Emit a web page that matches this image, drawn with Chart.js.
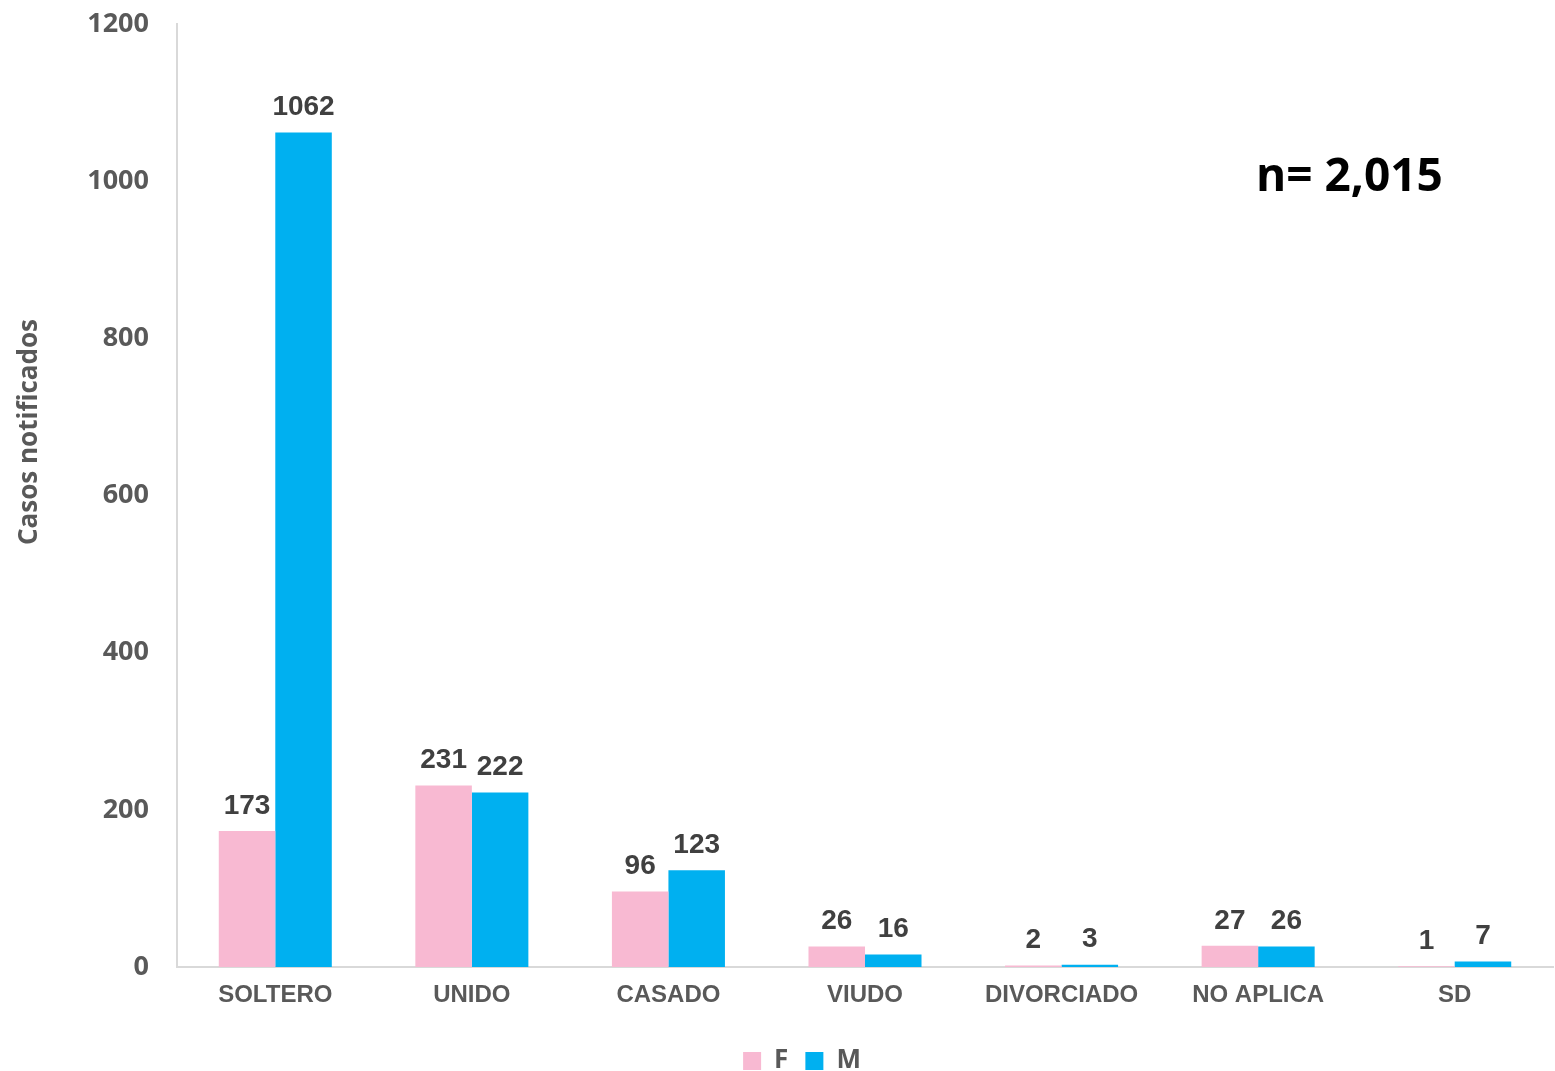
<!DOCTYPE html>
<html>
<head>
<meta charset="utf-8">
<script src="https://cdn.jsdelivr.net/npm/chart.js@4"></script>
<style>
  html, body { margin: 0; padding: 0; background: #fff; }
  #wrap { width: 1555px; height: 1071px; }
</style>
</head>
<body>
<div id="wrap"><canvas id="estadoCivilChart"></canvas></div>
<script>
const categories = ['SOLTERO', 'UNIDO', 'CASADO', 'VIUDO', 'DIVORCIADO', 'NO APLICA', 'SD'];
const femenino = [173, 231, 96, 26, 2, 27, 1];
const masculino = [1062, 222, 123, 16, 3, 26, 7];
const yTicks = [0, 200, 400, 600, 800, 1000, 1200];
const totalText = 'n= 2,015';
const yTitle = 'Casos notificados';

// etiquetas encima de cada barra
const valueLabels = {
  id: 'valueLabels',
  afterDatasetsDraw(chart) {
    const ctx = chart.ctx;
    ctx.save();
    ctx.font = 'bold 28px "Liberation Sans", Arial, sans-serif';
    ctx.fillStyle = '#404040';
    ctx.textAlign = 'center';
    ctx.textBaseline = 'bottom';
    chart.data.datasets.forEach((ds, i) => {
      chart.getDatasetMeta(i).data.forEach((bar, j) => {
        ctx.fillText(ds.data[j], bar.x, bar.y - 11);
      });
    });
    ctx.restore();
  }
};

// texto "n= 2,015" y titulo del eje y
const extraText = {
  id: 'extraText',
  afterDraw(chart) {
    const ctx = chart.ctx;
    ctx.save();
    ctx.font = 'bold 46px "Open Sans", sans-serif';
    ctx.fillStyle = '#000';
    ctx.textAlign = 'left';
    ctx.textBaseline = 'middle';
    ctx.fillText(totalText, 1256, 178);

    ctx.translate(30, 432);
    ctx.rotate(-Math.PI / 2);
    ctx.font = 'bold 26px "Open Sans", sans-serif';
    ctx.fillStyle = '#595959';
    ctx.textAlign = 'center';
    ctx.fillText(yTitle, 0, 0);
    ctx.restore();
  }
};

const ctx = document.getElementById('estadoCivilChart').getContext('2d');
const estadoCivilChart = new Chart(ctx, {
  type: 'bar',
  data: {
    labels: categories,
    datasets: [
      { label: 'F', data: femenino, backgroundColor: '#F8B9D2', categoryPercentage: 0.575, barPercentage: 1.0 },
      { label: 'M', data: masculino, backgroundColor: '#00B0F0', categoryPercentage: 0.575, barPercentage: 1.0 },
    ],
  },
  options: {
    responsive: true,
    maintainAspectRatio: false,
    animation: false,
    layout: { padding: { top: 24, right: 2, left: 51, bottom: -13 } },
    plugins: {
      legend: {
        position: 'bottom',
        title: { display: true, text: ' ', font: { size: 6 }, padding: 0 },
        labels: {
          boxWidth: 18, boxHeight: 18, padding: 17,
          color: '#595959',
          font: { family: '"Open Sans", sans-serif', size: 26, weight: 'bold' },
        },
      },
      tooltip: { enabled: false },
    },
    scales: {
      x: {
        grid: { display: false, drawTicks: false },
        border: { color: '#D9D9D9', width: 2 },
        ticks: {
          padding: 14,
          color: '#595959',
          font: { family: '"Liberation Sans", Arial, sans-serif', size: 24, weight: 'bold' },
        },
      },
      y: {
        min: 0, max: 1200,
        afterBuildTicks(axis) { axis.ticks = yTicks.map(v => ({ value: v })); },
        afterFit(axis) {
          axis.width = 126;
          axis.paddingTop = 0;
          axis.paddingBottom = 0;
        },
        grid: { display: false, drawTicks: false },
        border: { color: '#D9D9D9', width: 2 },
        ticks: {
          padding: 28,
          color: '#595959',
          callback: v => String(v),
          font: { family: '"Open Sans", sans-serif', size: 27, weight: 'bold' },
        },
      },
    },
  },
  plugins: [valueLabels, extraText],
});
</script>
</body>
</html>
